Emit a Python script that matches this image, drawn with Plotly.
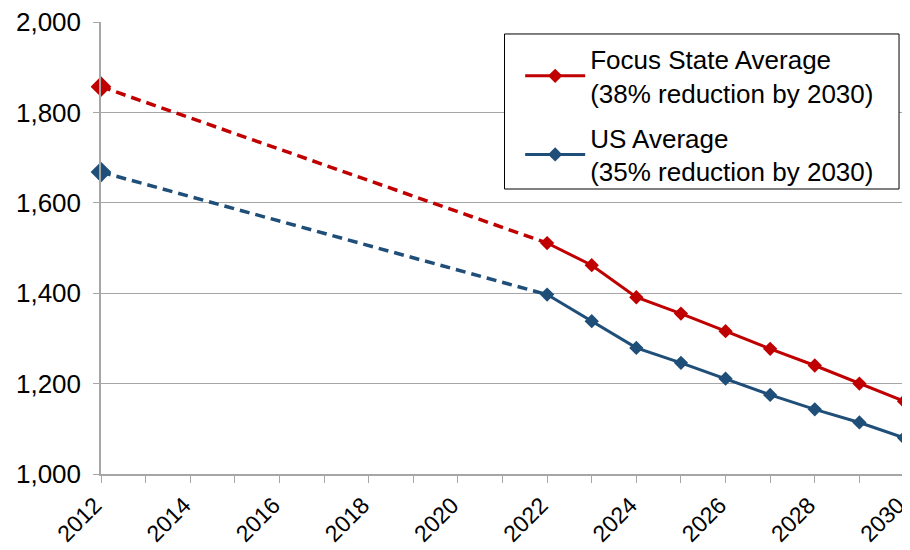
import plotly.graph_objects as go

years_hist = [2012, 2022]
years_proj = [2022, 2023, 2024, 2025, 2026, 2027, 2028, 2029, 2030]

focus_hist = [1857, 1511]
focus_proj = [1511, 1462, 1391, 1355, 1316, 1277, 1240, 1200, 1161]

us_hist = [1668, 1397]
us_proj = [1397, 1338, 1279, 1246, 1211, 1175, 1143, 1114, 1080]

red = "#C00000"
blue = "#1F4E79"
grey = "#A6A6A6"

fig = go.Figure()

for yh, col in [(focus_hist, red), (us_hist, blue)]:
    fig.add_trace(go.Scatter(
        x=years_hist, y=yh, mode="lines", showlegend=False,
        line=dict(color=col, width=3.5, dash="10px,6px"),
        cliponaxis=False, hoverinfo="skip"))
    fig.add_trace(go.Scatter(
        x=years_hist[:1], y=yh[:1], mode="markers", showlegend=False,
        marker=dict(symbol="diamond", size=16, color=col, line=dict(width=0)),
        cliponaxis=False, hoverinfo="skip"))

fig.add_trace(go.Scatter(
    x=years_proj, y=focus_proj, mode="lines+markers",
    name="Focus State Average<br>(38% reduction by 2030)", legendgroup="a",
    line=dict(color=red, width=3),
    marker=dict(symbol="diamond", size=11, color=red),
    cliponaxis=False))
fig.add_trace(go.Scatter(
    x=years_proj, y=us_proj, mode="lines+markers",
    name="US Average<br>(35% reduction by 2030)", legendgroup="b",
    line=dict(color=blue, width=3),
    marker=dict(symbol="diamond", size=11, color=blue),
    cliponaxis=False))

# legend frame
fig.add_shape(type="rect", xref="paper", yref="paper",
              x0=0.5025, x1=0.9938, y0=0.6305, y1=0.9735,
              line=dict(color="black", width=1), fillcolor="white", layer="above")

fig.update_layout(
    width=902, height=542,
    margin=dict(l=93, r=6, t=14, b=76, autoexpand=False),
    paper_bgcolor="white", plot_bgcolor="white",
    font=dict(family="Liberation Sans, Arial, sans-serif", size=26, color="black"),
    legend=dict(
        x=0.522, y=0.97, xanchor="left", yanchor="top",
        bgcolor="rgba(0,0,0,0)", borderwidth=0,
        font=dict(size=26), tracegroupgap=8, itemwidth=60),
    xaxis=dict(
        range=[2012, 2030], tickmode="linear", tick0=2012, dtick=2,
        tickangle=-45, showgrid=False, zeroline=False,
        showline=True, linecolor=grey, linewidth=1.5,
        ticks="outside", ticklen=7, tickcolor=grey,
        minor=dict(dtick=1, tick0=2012, ticks="outside", ticklen=7, tickcolor=grey),
        tickfont=dict(size=23), ticklabeloverflow="allow", ticklabelshift=-6),
    yaxis=dict(
        range=[1000, 2000], tickmode="linear", tick0=1000, dtick=200,
        tickformat=",", showgrid=True, gridcolor=grey, gridwidth=1,
        zeroline=False, showline=True, linecolor=grey, linewidth=1.5,
        ticks="outside", ticklen=6, tickcolor=grey,
        tickfont=dict(size=26), ticklabeloverflow="allow", ticklabelstandoff=7),
)

fig.write_html("out.html")
